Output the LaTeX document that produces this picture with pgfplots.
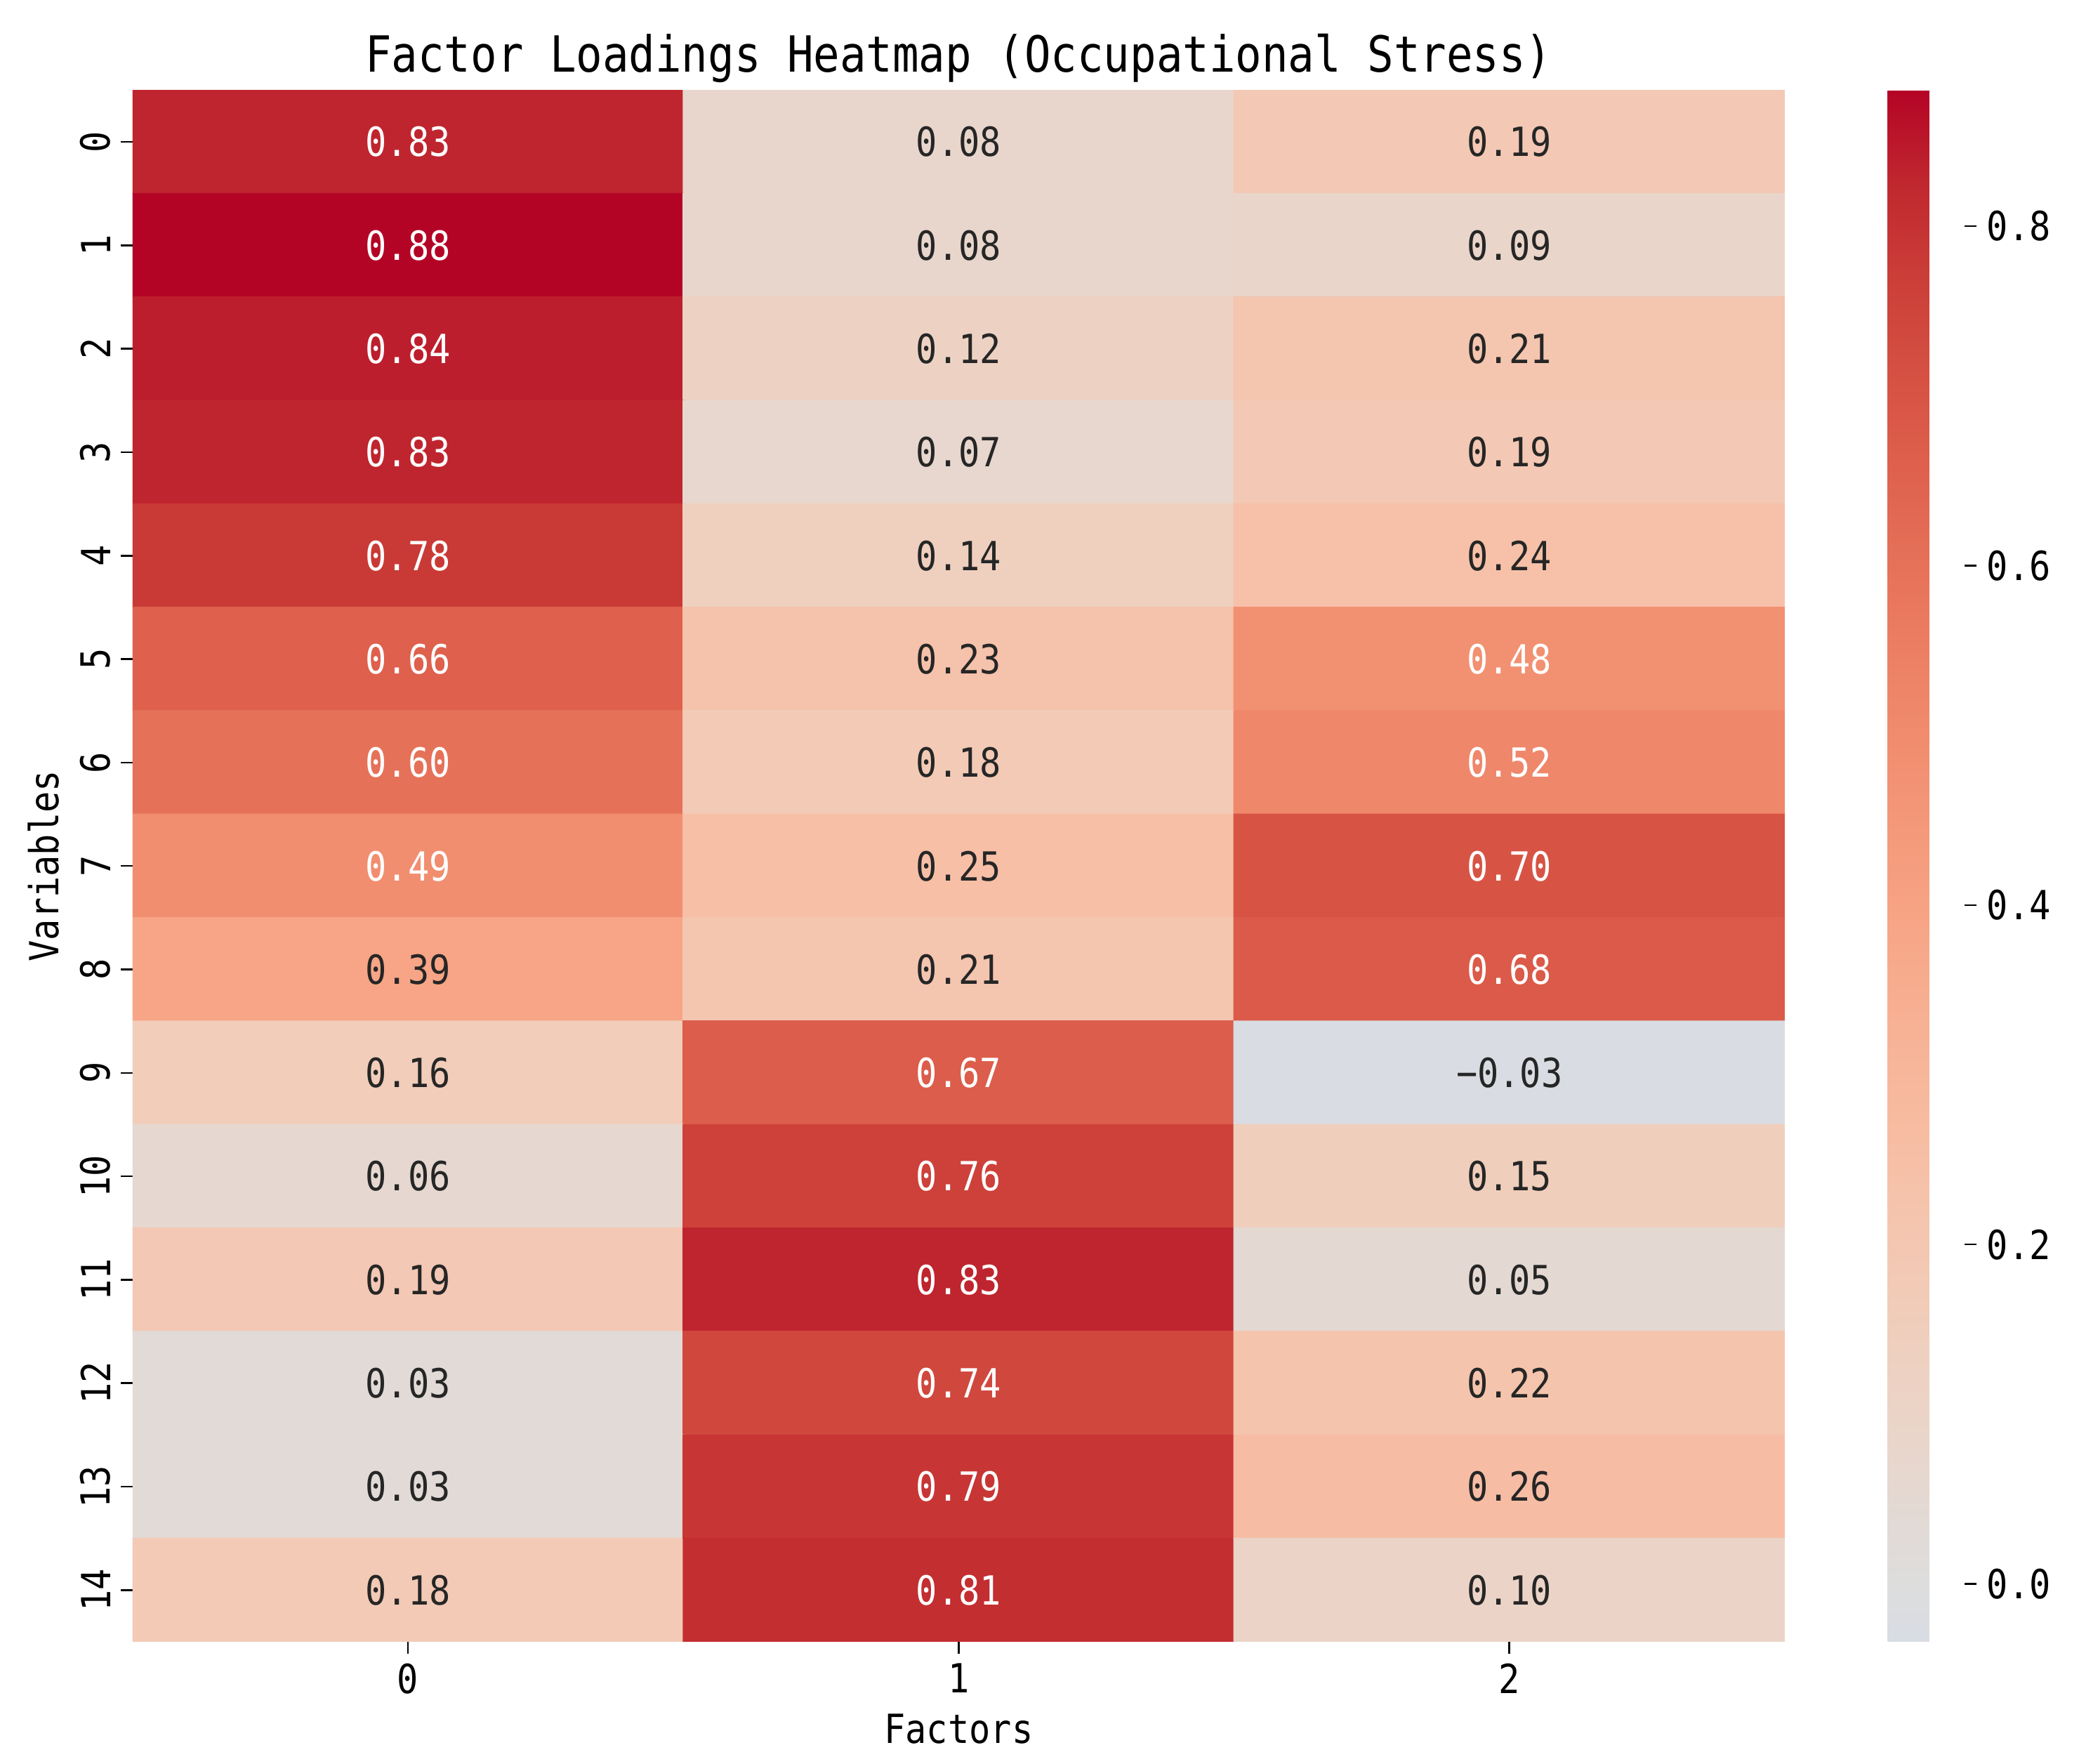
\documentclass[border=0pt]{standalone}
\usepackage{fontspec}
\setmainfont[FakeStretch=0.88]{DejaVu Sans Mono}
\usepackage{pgfplots}
\usepackage{pgfplotstable}
\pgfplotsset{compat=1.18}

\definecolor{annodark}{RGB}{38,38,38}
\newcommand\titlesize{\fontsize{17bp}{20bp}\selectfont}
\newcommand\labsize{\fontsize{13.7bp}{16bp}\selectfont}
\newcommand\annsize{\fontsize{13.7bp}{16bp}\selectfont}
\newcommand\ticksize{\fontsize{13.7bp}{16bp}\selectfont}

% coolwarm, centred at 0, cut to the data range -0.034 .. 0.88
\pgfplotsset{colormap={cwcentered}{
  rgb255(0pt)=(216,220,227)
  rgb255(34pt)=(221,221,221)
  rgb255(89pt)=(229,216,209)
  rgb255(144pt)=(236,211,197)
  rgb255(199pt)=(241,204,185)
  rgb255(254pt)=(245,196,173)
  rgb255(309pt)=(247,187,160)
  rgb255(364pt)=(247,177,148)
  rgb255(419pt)=(247,166,135)
  rgb255(474pt)=(244,154,123)
  rgb255(529pt)=(241,141,111)
  rgb255(584pt)=(236,127,99)
  rgb255(639pt)=(229,112,88)
  rgb255(694pt)=(222,96,77)
  rgb255(749pt)=(213,80,66)
  rgb255(804pt)=(203,62,56)
  rgb255(859pt)=(192,40,47)
  rgb255(914pt)=(180,4,38)
}}

% cell label: white on dark cells, two decimals, true minus sign
\newcommand\cellfmt{%
  \pgfmathfloattofixed{\pgfplotspointmeta}\let\zval\pgfmathresult
  \pgfmathparse{\zval>0.44}%
  \ifdim\pgfmathresult pt>0.5pt \color{white}\else\color{annodark}\fi
  \pgfmathparse{\zval<0}%
  \ifdim\pgfmathresult pt>0.5pt \char"2212\fi
  \pgfmathparse{abs(\zval)}%
  \pgfmathprintnumber[fixed,fixed zerofill,precision=2,assume math mode=true]{\pgfmathresult}}

\pgfplotstableread{
x y z
0 0 0.83
1 0 0.08
2 0 0.19
0 1 0.88
1 1 0.08
2 1 0.09
0 2 0.84
1 2 0.12
2 2 0.21
0 3 0.83
1 3 0.07
2 3 0.19
0 4 0.78
1 4 0.14
2 4 0.24
0 5 0.66
1 5 0.23
2 5 0.48
0 6 0.60
1 6 0.18
2 6 0.52
0 7 0.49
1 7 0.25
2 7 0.70
0 8 0.39
1 8 0.21
2 8 0.68
0 9 0.16
1 9 0.67
2 9 -0.03
0 10 0.06
1 10 0.76
2 10 0.15
0 11 0.19
1 11 0.83
2 11 0.05
0 12 0.03
1 12 0.74
2 12 0.22
0 13 0.03
1 13 0.79
2 13 0.26
0 14 0.18
1 14 0.81
2 14 0.10
}\loadings

\begin{document}
\begin{tikzpicture}
\begin{axis}[
  name=main,
  scale only axis,
  width=564.2bp, height=529.8bp,
  xmin=-0.5, xmax=2.5, ymin=-0.5, ymax=14.5,
  y dir=reverse,
  xtick={0,1,2}, ytick={0,1,...,14},
  tick pos=left,
  tick align=outside,
  major tick length=4bp,
  tick style={black, line width=0.6bp},
  axis line style={draw=none},
  /pgf/number format/assume math mode=true,
  ticklabel style={font=\ticksize},
  yticklabel style={rotate=90, anchor=south},
  colormap name=cwcentered,
  point meta min=-0.034, point meta max=0.88,
  colorbar,
  colorbar style={
    at={(parent axis.north east)}, anchor=north west, xshift=26.7bp,
    scale only axis, width=26.3bp, height=529.8bp,
    ytick={0,0.2,0.4,0.6,0.8},
    tick pos=right,
    yticklabel={\pgfmathprintnumber[fixed,fixed zerofill,precision=1,assume math mode=true]{\tick}},
    yticklabel style={font=\ticksize},
    axis line style={draw=none},
    tick align=outside, major tick length=4bp,
    tick style={black, line width=0.6bp},
  },
  every axis title shift=0pt,
  title={Factor Loadings Heatmap (Occupational Stress)},
  title style={font=\titlesize, at={(axis description cs:0.5,1.0119)}, anchor=base},
  xlabel={Factors},
  xlabel style={font=\labsize, at={(axis description cs:0.5,-0.0655)}, anchor=base},
  ylabel={Variables},
  ylabel style={font=\labsize, at={(axis description cs:-0.045,0.5)}, anchor=base},
]
\addplot[matrix plot*, mesh/cols=3, point meta=explicit] table[x=x, y=y, meta=z] {\loadings};
\addplot[draw=none, mark=none, point meta=explicit,
  nodes near coords={\cellfmt},
  every node near coord/.append style={anchor=center, font=\annsize}]
  table[x=x, y=y, meta=z] {\loadings};
\end{axis}
\path ([shift={(-45.3bp,-41.7bp)}]main.south west) rectangle ([shift={(100.5bp,30.8bp)}]main.north east);
\end{tikzpicture}
\end{document}
